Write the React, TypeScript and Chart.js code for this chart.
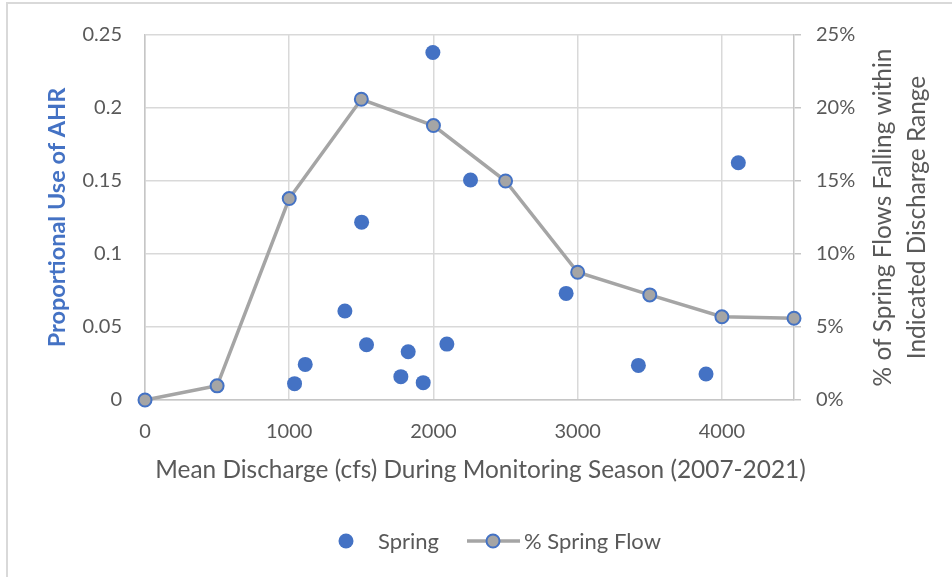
import React, { useEffect, useRef } from "react";
import { Chart, registerables } from "chart.js";

Chart.register(...registerables);

// Spring: mean discharge (cfs) vs proportional use of AHR
const springDischarge = [1037, 1111, 1386, 1502, 1536, 1774, 1825, 1929, 1996, 2093, 2257, 2920, 3421, 3890, 4114];
const springUse = [0.0112, 0.0244, 0.061, 0.1218, 0.0378, 0.016, 0.033, 0.0119, 0.238, 0.0383, 0.1507, 0.073, 0.0237, 0.0178, 0.1625];

// % Spring Flow: discharge bins vs percent of spring flows
const flowBins = [0, 500, 1000, 1500, 2000, 2500, 3000, 3500, 4000, 4500];
const flowPercent = [0, 0.97, 13.8, 20.6, 18.8, 15.0, 8.75, 7.2, 5.7, 5.6];

const xTickValues = [0, 1000, 2000, 3000, 4000];
const leftTickLabels = ["0", "0.05", "0.1", "0.15", "0.2", "0.25"];
const rightTickLabels = ["0%", "5%", "10%", "15%", "20%", "25%"];

const xTitle = "Mean Discharge (cfs) During Monitoring Season (2007-2021)";
const leftTitle = "Proportional Use of AHR";
const rightTitleLines = ["% of Spring Flows Falling within", "Indicated Discharge Range"];
const seriesNames = ["Spring", "% Spring Flow"];

const FONT = "Lato, 'Open Sans', sans-serif";
const BLUE = "#4472C4";
const GRAY = "#A5A5A5";
const TEXT = "#595959";
const GRID = "#d9d9d9";
const AXIS = "#c6c6c6";

export default function App() {
  const ref = useRef<HTMLCanvasElement | null>(null);

  useEffect(() => {
    const canvas = ref.current;
    if (!canvas) return;

    const decorPlugin = {
      id: "decor",
      beforeDraw(chart: any) {
        const ctx = chart.ctx;
        ctx.save();
        ctx.fillStyle = "#ffffff";
        ctx.fillRect(0, 0, chart.width, chart.height);
        ctx.fillStyle = GRID;
        ctx.fillRect(6, 2, chart.width - 6, 2);
        ctx.fillRect(6, 2, 2, chart.height - 2);
        ctx.restore();
      },
      afterDraw(chart: any) {
        const ctx = chart.ctx;
        const area = chart.chartArea;
        const cy = (area.top + area.bottom) / 2;
        ctx.save();
        ctx.fillStyle = TEXT;
        ctx.textAlign = "center";
        ctx.textBaseline = "middle";
        // x axis title
        ctx.font = `24.4px ${FONT}`;
        ctx.fillText(xTitle, 480.5, 470);
        // right axis title (reads bottom to top)
        ctx.font = `24.4px ${FONT}`;
        const xs = [883, 917];
        rightTitleLines.forEach((t, i) => {
          ctx.save();
          ctx.translate(xs[i], cy);
          ctx.rotate(-Math.PI / 2);
          ctx.fillText(t, 0, 0);
          ctx.restore();
        });
        // legend
        const ly = 541;
        ctx.fillStyle = BLUE;
        ctx.beginPath();
        ctx.arc(346, ly, 7.5, 0, Math.PI * 2);
        ctx.fill();
        ctx.fillStyle = TEXT;
        ctx.textAlign = "left";
        ctx.font = `22px ${FONT}`;
        ctx.fillText(seriesNames[0], 378, ly + 1);
        ctx.strokeStyle = GRAY;
        ctx.lineWidth = 3.5;
        ctx.beginPath();
        ctx.moveTo(467, ly);
        ctx.lineTo(520, ly);
        ctx.stroke();
        ctx.fillStyle = GRAY;
        ctx.strokeStyle = BLUE;
        ctx.lineWidth = 2;
        ctx.beginPath();
        ctx.arc(493, ly, 6.5, 0, Math.PI * 2);
        ctx.fill();
        ctx.stroke();
        ctx.fillStyle = TEXT;
        ctx.fillText(seriesNames[1], 524, ly + 1);
        ctx.restore();
      },
    };

    const chart = new Chart(canvas, {
      type: "scatter",
      data: {
        datasets: [
          {
            type: "line",
            label: seriesNames[1],
            data: flowBins.map((x, i) => ({ x, y: flowPercent[i] })),
            yAxisID: "y1",
            borderColor: GRAY,
            borderWidth: 3.5,
            pointRadius: 6.5,
            pointBackgroundColor: GRAY,
            pointBorderColor: BLUE,
            pointBorderWidth: 2,
            tension: 0,
            clip: false,
            order: 1,
          },
          {
            type: "scatter",
            label: seriesNames[0],
            data: springDischarge.map((x, i) => ({ x, y: springUse[i] })),
            yAxisID: "y",
            backgroundColor: BLUE,
            borderColor: BLUE,
            borderWidth: 0,
            pointRadius: 7.5,
            clip: false,
            order: 2,
          },
        ],
      },
      options: {
        animation: false,
        responsive: false,
        devicePixelRatio: 1,
        layout: { padding: { top: 32, left: 0, right: 0, bottom: 0 } },
        plugins: { legend: { display: false }, tooltip: { enabled: false } },
        scales: {
          x: {
            type: "linear",
            min: 0,
            max: 4500,
            afterBuildTicks: (s: any) => {
              s.ticks = xTickValues.map((v) => ({ value: v }));
            },
            afterFit: (s: any) => {
              s.height = 177;
            },
            grid: { color: GRID, lineWidth: 1.5, drawTicks: false },
            border: { color: AXIS, width: 1.5 },
            ticks: { color: TEXT, font: { family: FONT, size: 20 }, padding: 20, callback: (v: any) => String(v) },
            title: { display: false },
          },
          y: {
            position: "left",
            min: 0,
            max: 0.25,
            afterBuildTicks: (s: any) => {
              s.ticks = leftTickLabels.map((l) => ({ value: parseFloat(l) }));
            },
            afterFit: (s: any) => {
              s.width = 145;
            },
            grid: { color: GRID, lineWidth: 1.5, drawTicks: false },
            border: { color: AXIS, width: 1.5 },
            ticks: {
              color: TEXT,
              font: { family: FONT, size: 20 },
              padding: 23,
              callback: (_v: any, i: number) => leftTickLabels[i],
            },
            title: {
              display: true,
              text: leftTitle,
              color: BLUE,
              font: { family: FONT, size: 23.5, weight: "bold" },
              padding: { top: 43, bottom: 0 },
            },
          },
          y1: {
            position: "right",
            min: 0,
            max: 25,
            afterBuildTicks: (s: any) => {
              s.ticks = rightTickLabels.map((l) => ({ value: parseFloat(l) }));
            },
            afterFit: (s: any) => {
              s.width = 158;
            },
            grid: { drawOnChartArea: false, drawTicks: true, tickLength: 7, color: AXIS, lineWidth: 1.5 },
            border: { color: AXIS, width: 1.5 },
            ticks: {
              color: TEXT,
              font: { family: FONT, size: 20 },
              padding: 15,
              callback: (_v: any, i: number) => rightTickLabels[i],
            },
          },
        },
      },
      plugins: [decorPlugin],
    } as any);

    return () => chart.destroy();
  }, []);

  return (
    <div style={{ position: "fixed", left: 0, top: 0, width: 952, height: 577, background: "#fff" }}>
      <canvas ref={ref} width={952} height={577} style={{ display: "block", width: 952, height: 577 }} />
    </div>
  );
}
